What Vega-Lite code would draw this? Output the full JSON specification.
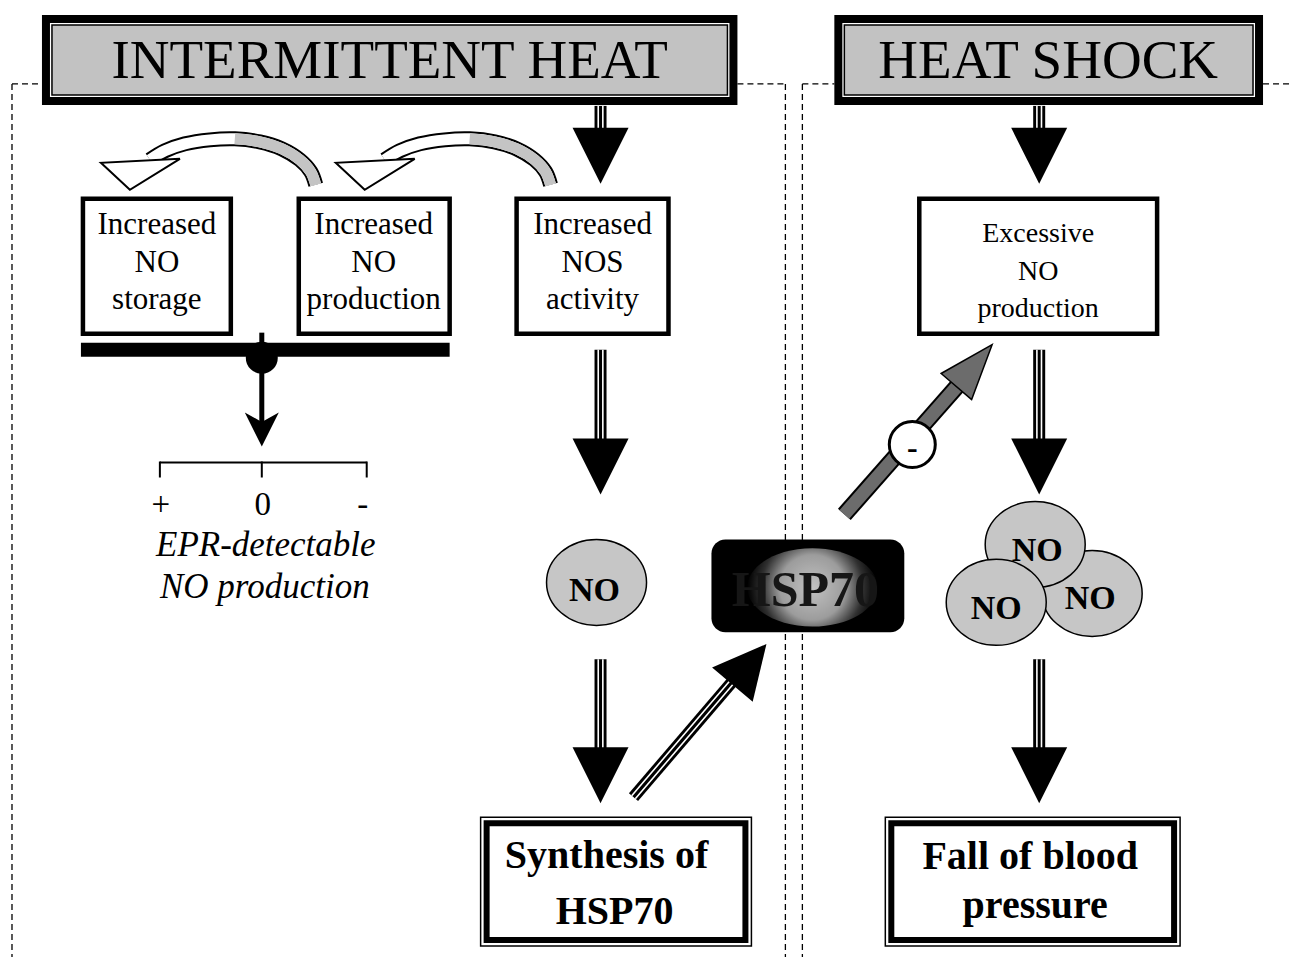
{
  "$schema": "https://vega.github.io/schema/vega-lite/v6.json",
  "width": 1292,
  "height": 958,
  "padding": 0,
  "autosize": {"type": "fit", "contains": "padding"},
  "background": "white",
  "config": {"view": {"stroke": null}},
  "datasets": {
    "dashes": [
      {"x": 12, "y": 84, "x2": 42, "y2": 84},
      {"x": 738, "y": 84, "x2": 786, "y2": 84},
      {"x": 803, "y": 84, "x2": 835, "y2": 84},
      {"x": 1264, "y": 84, "x2": 1292, "y2": 84},
      {"x": 12, "y": 84, "x2": 12, "y2": 958},
      {"x": 786, "y": 84, "x2": 786, "y2": 958},
      {"x": 803, "y": 84, "x2": 803, "y2": 958}
    ],
    "titleOuter": [
      {"x": 46, "x2": 734, "y": 19, "y2": 101},
      {"x": 839, "x2": 1260, "y": 19, "y2": 101}
    ],
    "titleInner": [
      {"x": 52, "x2": 728, "y": 25, "y2": 95},
      {"x": 845, "x2": 1254, "y": 25, "y2": 95}
    ],
    "titleText": [
      {"x": 390, "y": 78, "t": "INTERMITTENT HEAT"},
      {"x": 1049, "y": 78, "t": "HEAT SHOCK"}
    ],
    "curves": [
      {"c": "a", "i": 0, "x": 150, "y": 160}, {"c": "a", "i": 1, "x": 165, "y": 151},
      {"c": "a", "i": 2, "x": 185, "y": 144}, {"c": "a", "i": 3, "x": 210, "y": 140},
      {"c": "a", "i": 4, "x": 235, "y": 139}, {"c": "a", "i": 5, "x": 260, "y": 142},
      {"c": "a", "i": 6, "x": 282, "y": 149}, {"c": "a", "i": 7, "x": 300, "y": 160},
      {"c": "a", "i": 8, "x": 311, "y": 172}, {"c": "a", "i": 9, "x": 316, "y": 185},
      {"c": "b", "i": 0, "x": 385, "y": 160}, {"c": "b", "i": 1, "x": 400, "y": 151},
      {"c": "b", "i": 2, "x": 420, "y": 144}, {"c": "b", "i": 3, "x": 445, "y": 140},
      {"c": "b", "i": 4, "x": 470, "y": 139}, {"c": "b", "i": 5, "x": 495, "y": 142},
      {"c": "b", "i": 6, "x": 517, "y": 149}, {"c": "b", "i": 7, "x": 535, "y": 160},
      {"c": "b", "i": 8, "x": 546, "y": 172}, {"c": "b", "i": 9, "x": 551, "y": 185}
    ],
    "curveHeads": [{"x": 140, "y": 174}, {"x": 375, "y": 174}],
    "boxes": [
      {"x": 83, "x2": 231, "y": 199, "y2": 334},
      {"x": 299, "x2": 450, "y": 199, "y2": 334},
      {"x": 517, "x2": 669, "y": 199, "y2": 334},
      {"x": 920, "x2": 1158, "y": 199, "y2": 334}
    ],
    "boxText": [
      {"x": 157, "y": 234, "t": "Increased"}, {"x": 157, "y": 272, "t": "NO"}, {"x": 157, "y": 309, "t": "storage"},
      {"x": 374, "y": 234, "t": "Increased"}, {"x": 374, "y": 272, "t": "NO"}, {"x": 374, "y": 309, "t": "production"},
      {"x": 593, "y": 234, "t": "Increased"}, {"x": 593, "y": 272, "t": "NOS"}, {"x": 593, "y": 309, "t": "activity"}
    ],
    "boxText2": [
      {"x": 1039, "y": 242, "t": "Excessive"}, {"x": 1039, "y": 280, "t": "NO"}, {"x": 1039, "y": 317, "t": "production"}
    ],
    "bottomOuter": [
      {"x": 481, "x2": 752, "y": 818, "y2": 947},
      {"x": 886, "x2": 1181, "y": 818, "y2": 947}
    ],
    "bottomInner": [
      {"x": 487, "x2": 746, "y": 824, "y2": 941},
      {"x": 892, "x2": 1175, "y": 824, "y2": 941}
    ],
    "bottomText": [
      {"x": 607, "y": 869, "t": "Synthesis of"}, {"x": 615, "y": 925, "t": "HSP70"},
      {"x": 1031, "y": 870, "t": "Fall of  blood"}, {"x": 1036, "y": 919, "t": "pressure"}
    ],
    "bar": [{"x": 81, "x2": 450, "y": 343, "y2": 357}],
    "knob": [{"x": 262, "y": 358}],
    "eprRules": [
      {"x": 262, "y": 333, "x2": 262, "y2": 345},
      {"x": 262, "y": 370, "x2": 262, "y2": 425}
    ],
    "eprHead": [{"x": 262, "y": 430}],
    "bracket": [
      {"x": 160, "y": 463, "x2": 367, "y2": 463},
      {"x": 160, "y": 462, "x2": 160, "y2": 478},
      {"x": 262, "y": 462, "x2": 262, "y2": 478},
      {"x": 367, "y": 462, "x2": 367, "y2": 478}
    ],
    "scaleLabels": [
      {"x": 161, "y": 516, "t": "+"}, {"x": 263, "y": 516, "t": "0"}, {"x": 363, "y": 516, "t": "-"}
    ],
    "eprText": [
      {"x": 266, "y": 557, "t": "EPR-detectable"}, {"x": 265, "y": 599, "t": "NO production"}
    ],
    "shaftCore": [
      {"x": 601, "y": 106, "x2": 601, "y2": 132},
      {"x": 601, "y": 350, "x2": 601, "y2": 442},
      {"x": 601, "y": 660, "x2": 601, "y2": 751},
      {"x": 1040, "y": 106, "x2": 1040, "y2": 132},
      {"x": 1040, "y": 350, "x2": 1040, "y2": 442},
      {"x": 1040, "y": 660, "x2": 1040, "y2": 751},
      {"x": 634, "y": 798, "x2": 740, "y2": 674}
    ],
    "shaftGap": [
      {"x": 598.7, "y": 106, "x2": 598.7, "y2": 131}, {"x": 603.3, "y": 106, "x2": 603.3, "y2": 131},
      {"x": 598.7, "y": 350, "x2": 598.7, "y2": 441}, {"x": 603.3, "y": 350, "x2": 603.3, "y2": 441},
      {"x": 598.7, "y": 660, "x2": 598.7, "y2": 750}, {"x": 603.3, "y": 660, "x2": 603.3, "y2": 750},
      {"x": 1037.7, "y": 106, "x2": 1037.7, "y2": 131}, {"x": 1042.3, "y": 106, "x2": 1042.3, "y2": 131},
      {"x": 1037.7, "y": 350, "x2": 1037.7, "y2": 441}, {"x": 1042.3, "y": 350, "x2": 1042.3, "y2": 441},
      {"x": 1037.7, "y": 660, "x2": 1037.7, "y2": 750}, {"x": 1042.3, "y": 660, "x2": 1042.3, "y2": 750},
      {"x": 635.8, "y": 799.5, "x2": 741.8, "y2": 675.5}, {"x": 632.2, "y": 796.5, "x2": 738.2, "y2": 672.5}
    ],
    "downHeads": [
      {"x": 601, "y": 156}, {"x": 601, "y": 467}, {"x": 601, "y": 776},
      {"x": 1040, "y": 156}, {"x": 1040, "y": 467}, {"x": 1040, "y": 776}
    ],
    "diagHead": [{"x": 750, "y": 665}],
    "grayShaft": [{"x": 845, "y": 515, "x2": 962, "y2": 382}],
    "grayHead": [{"x": 975, "y": 366}],
    "minusCircle": [{"x": 913, "y": 445}],
    "minusText": [{"x": 913, "y": 458, "t": "-"}],
    "ellipses": [
      {"x": 597, "y": 583}, {"x": 1093, "y": 594}, {"x": 1036, "y": 545}, {"x": 997, "y": 603}
    ],
    "noText": [
      {"x": 595, "y": 602, "t": "NO"}, {"x": 1038, "y": 562, "t": "NO"},
      {"x": 997, "y": 620, "t": "NO"}, {"x": 1091, "y": 610, "t": "NO"}
    ],
    "hspBox": [{"x": 712, "x2": 905, "y": 540, "y2": 633}],
    "hspGlow": [{"x": 813, "y": 588}],
    "hspText": [{"x": 806, "y": 607, "t": "HSP70"}]
  },
  "encoding": {
    "x": {"field": "x", "type": "quantitative", "scale": {"domain": [0, 1292], "nice": false, "zero": false}, "axis": null},
    "y": {"field": "y", "type": "quantitative", "scale": {"domain": [0, 958], "nice": false, "zero": false, "reverse": true}, "axis": null}
  },
  "layer": [
    {"data": {"name": "dashes"}, "mark": {"type": "rule", "stroke": "#000", "strokeWidth": 1.3, "strokeDash": [6, 4]},
     "encoding": {"x2": {"field": "x2"}, "y2": {"field": "y2"}}},
    {"data": {"name": "titleOuter"}, "mark": {"type": "rect", "fill": "#fff", "stroke": "#000", "strokeWidth": 8},
     "encoding": {"x2": {"field": "x2"}, "y2": {"field": "y2"}}},
    {"data": {"name": "titleInner"}, "mark": {"type": "rect", "fill": "#c2c2c2", "stroke": "#000", "strokeWidth": 1.5},
     "encoding": {"x2": {"field": "x2"}, "y2": {"field": "y2"}}},
    {"data": {"name": "titleText"}, "mark": {"type": "text", "font": "Liberation Serif", "fontSize": 55, "align": "center", "baseline": "alphabetic", "color": "#000"},
     "encoding": {"text": {"field": "t", "type": "nominal"}}},
    {"data": {"name": "curves"}, "mark": {"type": "line", "interpolate": "catmull-rom", "stroke": "#000", "strokeWidth": 15, "strokeCap": "butt"},
     "encoding": {"detail": {"field": "c", "type": "nominal"}, "order": {"field": "i", "type": "quantitative"}}},
    {"data": {"name": "curves"}, "mark": {"type": "line", "interpolate": "catmull-rom", "stroke": "#fff", "strokeWidth": 11, "strokeCap": "butt"},
     "encoding": {"detail": {"field": "c", "type": "nominal"}, "order": {"field": "i", "type": "quantitative"}}},
    {"data": {"name": "curves"}, "transform": [{"filter": "datum.i >= 4"}],
     "mark": {"type": "line", "interpolate": "catmull-rom", "stroke": "#c4c4c4", "strokeWidth": 11, "strokeCap": "butt"},
     "encoding": {"detail": {"field": "c", "type": "nominal"}, "order": {"field": "i", "type": "quantitative"}}},
    {"data": {"name": "curveHeads"}, "mark": {"type": "point", "shape": "M-0.975,-0.275L-0.25,0.4L1,-0.375Z", "size": 6400, "filled": true, "fill": "#fff", "stroke": "#000", "strokeWidth": 2, "opacity": 1}},
    {"data": {"name": "boxes"}, "mark": {"type": "rect", "fill": "#fff", "stroke": "#000", "strokeWidth": 4.5},
     "encoding": {"x2": {"field": "x2"}, "y2": {"field": "y2"}}},
    {"data": {"name": "boxText"}, "mark": {"type": "text", "font": "Liberation Serif", "fontSize": 31, "align": "center", "baseline": "alphabetic", "color": "#000"},
     "encoding": {"text": {"field": "t", "type": "nominal"}}},
    {"data": {"name": "boxText2"}, "mark": {"type": "text", "font": "Liberation Serif", "fontSize": 28, "align": "center", "baseline": "alphabetic", "color": "#000"},
     "encoding": {"text": {"field": "t", "type": "nominal"}}},
    {"data": {"name": "bar"}, "mark": {"type": "rect", "fill": "#000"},
     "encoding": {"x2": {"field": "x2"}, "y2": {"field": "y2"}}},
    {"data": {"name": "knob"}, "mark": {"type": "point", "shape": "circle", "size": 1024, "filled": true, "fill": "#000", "opacity": 1}},
    {"data": {"name": "eprRules"}, "mark": {"type": "rule", "stroke": "#000", "strokeWidth": 5},
     "encoding": {"x2": {"field": "x2"}, "y2": {"field": "y2"}}},
    {"data": {"name": "eprHead"}, "mark": {"type": "point", "shape": "M-1,-1L0,-0.45L1,-1L0,1Z", "size": 1156, "filled": true, "fill": "#000", "opacity": 1}},
    {"data": {"name": "bracket"}, "mark": {"type": "rule", "stroke": "#000", "strokeWidth": 2},
     "encoding": {"x2": {"field": "x2"}, "y2": {"field": "y2"}}},
    {"data": {"name": "scaleLabels"}, "mark": {"type": "text", "font": "Liberation Serif", "fontSize": 33, "align": "center", "baseline": "alphabetic", "color": "#000"},
     "encoding": {"text": {"field": "t", "type": "nominal"}}},
    {"data": {"name": "eprText"}, "mark": {"type": "text", "font": "Liberation Serif", "fontSize": 35, "fontStyle": "italic", "align": "center", "baseline": "alphabetic", "color": "#000"},
     "encoding": {"text": {"field": "t", "type": "nominal"}}},
    {"data": {"name": "ellipses"}, "mark": {"type": "point", "shape": "M-1,0A1,0.86,0,1,0,1,0A1,0.86,0,1,0,-1,0Z", "size": 10000, "filled": true, "fill": "#c6c6c6", "stroke": "#000", "strokeWidth": 1.5, "opacity": 1}},
    {"data": {"name": "noText"}, "mark": {"type": "text", "font": "Liberation Serif", "fontSize": 34, "fontWeight": "bold", "align": "center", "baseline": "alphabetic", "color": "#000"},
     "encoding": {"text": {"field": "t", "type": "nominal"}}},
    {"data": {"name": "hspBox"}, "mark": {"type": "rect", "fill": "#000", "cornerRadius": 14},
     "encoding": {"x2": {"field": "x2"}, "y2": {"field": "y2"}}},
    {"data": {"name": "hspGlow"}, "mark": {"type": "point", "shape": "M-1,0A1,0.6,0,1,0,1,0A1,0.6,0,1,0,-1,0Z", "size": 17000, "filled": true, "opacity": 1, "strokeWidth": 0,
      "fill": {"gradient": "radial", "x1": 0.5, "y1": 0.5, "r1": 0, "x2": 0.5, "y2": 0.5, "r2": 0.5,
        "stops": [{"offset": 0, "color": "#c2c2c2"}, {"offset": 0.5, "color": "#9c9c9c"}, {"offset": 0.78, "color": "#303030"}, {"offset": 1, "color": "#000000"}]}}},
    {"data": {"name": "hspText"}, "mark": {"type": "text", "font": "Liberation Serif", "fontSize": 50, "fontWeight": "bold", "align": "center", "baseline": "alphabetic", "color": "#161616"},
     "encoding": {"text": {"field": "t", "type": "nominal"}}},
    {"data": {"name": "shaftCore"}, "mark": {"type": "rule", "stroke": "#000", "strokeWidth": 12, "strokeCap": "butt"},
     "encoding": {"x2": {"field": "x2"}, "y2": {"field": "y2"}}},
    {"data": {"name": "shaftGap"}, "mark": {"type": "rule", "stroke": "#fff", "strokeWidth": 1.6, "strokeCap": "butt"},
     "encoding": {"x2": {"field": "x2"}, "y2": {"field": "y2"}}},
    {"data": {"name": "downHeads"}, "mark": {"type": "point", "shape": "M-1,-1L1,-1L0,1Z", "size": 3136, "filled": true, "fill": "#000", "opacity": 1}},
    {"data": {"name": "diagHead"}, "mark": {"type": "point", "shape": "M-1,-1L1,-1L0,1Z", "size": 2809, "angle": 220, "filled": true, "fill": "#000", "opacity": 1}},
    {"data": {"name": "grayShaft"}, "mark": {"type": "rule", "stroke": "#000", "strokeWidth": 17, "strokeCap": "butt"},
     "encoding": {"x2": {"field": "x2"}, "y2": {"field": "y2"}}},
    {"data": {"name": "grayShaft"}, "mark": {"type": "rule", "stroke": "#6c6c6c", "strokeWidth": 13, "strokeCap": "butt"},
     "encoding": {"x2": {"field": "x2"}, "y2": {"field": "y2"}}},
    {"data": {"name": "grayHead"}, "mark": {"type": "point", "shape": "M-0.73,-1L0.73,-1L0,1Z", "size": 3025, "angle": 220.5, "filled": true, "fill": "#6c6c6c", "stroke": "#000", "strokeWidth": 1.5, "opacity": 1}},
    {"data": {"name": "minusCircle"}, "mark": {"type": "point", "shape": "circle", "size": 2116, "filled": true, "fill": "#fff", "stroke": "#000", "strokeWidth": 3, "opacity": 1}},
    {"data": {"name": "minusText"}, "mark": {"type": "text", "font": "Liberation Serif", "fontSize": 32, "fontWeight": "bold", "align": "center", "baseline": "alphabetic", "color": "#000"},
     "encoding": {"text": {"field": "t", "type": "nominal"}}},
    {"data": {"name": "bottomOuter"}, "mark": {"type": "rect", "fill": "#fff", "stroke": "#000", "strokeWidth": 1.5},
     "encoding": {"x2": {"field": "x2"}, "y2": {"field": "y2"}}},
    {"data": {"name": "bottomInner"}, "mark": {"type": "rect", "fill": "#fff", "stroke": "#000", "strokeWidth": 6},
     "encoding": {"x2": {"field": "x2"}, "y2": {"field": "y2"}}},
    {"data": {"name": "bottomText"}, "mark": {"type": "text", "font": "Liberation Serif", "fontSize": 40, "fontWeight": "bold", "align": "center", "baseline": "alphabetic", "color": "#000"},
     "encoding": {"text": {"field": "t", "type": "nominal"}}}
  ]
}
